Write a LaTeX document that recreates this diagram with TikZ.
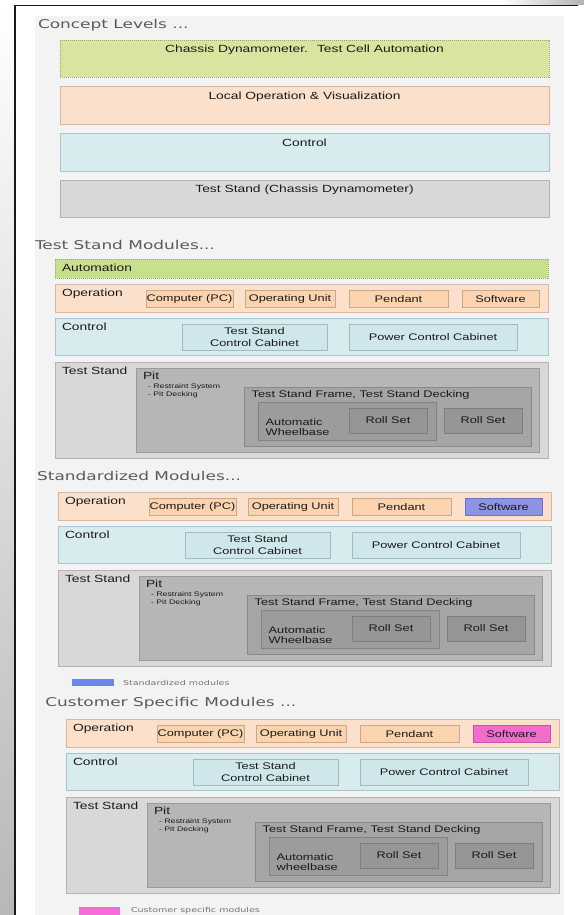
\documentclass[tikz,border=0pt]{standalone}
\usepackage{fontspec}
\setmainfont[FakeStretch=1.33]{Liberation Sans}
\newfontfamily\ttlfont[FakeStretch=1.4]{DejaVu Sans}
\usetikzlibrary{calc}
\definecolor{panel}{HTML}{F3F3F3}
\definecolor{txtc}{HTML}{1A1A1A}
\definecolor{ttlc}{HTML}{5A5A5A}
\definecolor{legc}{HTML}{747474}
\definecolor{grfill}{HTML}{D7E5A1}
\definecolor{grline}{HTML}{9AAC6C}
\definecolor{aufill}{HTML}{C8DF8C}
\definecolor{opfill}{HTML}{FBE0CB}
\definecolor{opline}{HTML}{D8B89E}
\definecolor{opsubfill}{HTML}{FBD4AF}
\definecolor{opsubline}{HTML}{C9A88B}
\definecolor{ctfill}{HTML}{D8ECEF}
\definecolor{ctline}{HTML}{A9C5C9}
\definecolor{ctsubfill}{HTML}{CFE7EB}
\definecolor{ctsubline}{HTML}{9FBCC1}
\definecolor{tsfill}{HTML}{D8D8D8}
\definecolor{tsline}{HTML}{B3B3B3}
\definecolor{pitfill}{HTML}{B6B6B6}
\definecolor{pitline}{HTML}{9A9A9A}
\definecolor{frfill}{HTML}{A5A5A5}
\definecolor{frline}{HTML}{8A8A8A}
\definecolor{awfill}{HTML}{9C9C9C}
\definecolor{awline}{HTML}{838383}
\definecolor{rofill}{HTML}{969696}
\definecolor{roline}{HTML}{7E7E7E}
\definecolor{stdfill}{HTML}{8A94E0}
\definecolor{stdline}{HTML}{6A74C4}
\definecolor{cusfill}{HTML}{F36CCB}
\definecolor{cusline}{HTML}{C456A4}
\definecolor{legblue}{HTML}{6C87EA}
\definecolor{legpink}{HTML}{F46CD8}
\tikzset{
  box/.style={draw, line width=0.7bp, inner sep=0pt, outer sep=0pt, align=center, text=txtc,
    font=\fontsize{9.6bp}{11.5bp}\selectfont},
  grbox/.style={box, fill=grfill, draw=grline, dash pattern=on 1.2bp off 0.8bp},
  aubox/.style={box, fill=aufill, draw=grline, dash pattern=on 1.2bp off 0.8bp},
  opbox/.style={box, fill=opfill, draw=opline},
  opsub/.style={box, fill=opsubfill, draw=opsubline},
  stdsw/.style={box, fill=stdfill, draw=stdline},
  cussw/.style={box, fill=cusfill, draw=cusline},
  ctbox/.style={box, fill=ctfill, draw=ctline},
  ctsub/.style={box, fill=ctsubfill, draw=ctsubline},
  tsbox/.style={box, fill=tsfill, draw=tsline},
  graybox/.style={box, fill=tsfill, draw=tsline},
  pitbox/.style={box, fill=pitfill, draw=pitline},
  frbox/.style={box, fill=frfill, draw=frline},
  awbbox/.style={box, fill=awfill, draw=awline},
  rollbox/.style={box, fill=rofill, draw=roline},
  txt/.style={inner sep=0pt, outer sep=0pt, text=txtc, font=\fontsize{9.6bp}{11.5bp}\selectfont},
  lbl/.style={inner sep=0pt, outer sep=0pt, text=txtc, font=\fontsize{10.4bp}{12bp}\selectfont},
  smalltxt/.style={inner sep=0pt, outer sep=0pt, text=txtc, font=\fontsize{6.6bp}{8bp}\selectfont},
  ttl/.style={inner sep=0pt, outer sep=0pt, text=ttlc, font=\ttlfont\fontsize{12.1bp}{14bp}\selectfont},
  legtxt/.style={inner sep=0pt, outer sep=0pt, text=legc, font=\ttlfont\fontsize{6.8bp}{8bp}\selectfont},
}
\newcommand{\mybox}[6]{\node[#5, anchor=north west, minimum width=#3bp, minimum height=#4bp] (#1) at #2 {#6};}
\newcommand{\modrows}[5]{%
  \mybox{#1op}{($(#2,#3)+(0,0)$)}{493}{28}{opbox}{}
  \node[lbl, anchor=base west] (#1opl) at ($(#2,#3)+(7,12.7)$) {Operation};
  \mybox{#1pc}{($(#2,#3)+(91,6.5)$)}{87}{16.5}{opsub}{Computer (PC)}
  \mybox{#1ou}{($(#2,#3)+(190,6.5)$)}{90}{16.5}{opsub}{Operating Unit}
  \mybox{#1pe}{($(#2,#3)+(294,6.5)$)}{99}{16.5}{opsub}{Pendant}
  \mybox{#1sw}{($(#2,#3)+(407,6.5)$)}{77}{16.5}{#4}{Software}
  \mybox{#1ct}{($(#2,#3)+(0,34)$)}{493}{37}{ctbox}{}
  \node[lbl, anchor=base west] (#1ctl) at ($(#2,#3)+(7,46.7)$) {Control};
  \mybox{#1tscc}{($(#2,#3)+(127,40)$)}{145}{26}{ctsub}{Test Stand\\Control Cabinet}
  \mybox{#1pcc}{($(#2,#3)+(294,40)$)}{168}{26}{ctsub}{Power Control Cabinet}
  \mybox{#1ts}{($(#2,#3)+(0,78)$)}{493}{96}{tsbox}{}
  \node[lbl, anchor=base west] (#1tsl) at ($(#2,#3)+(7,90.5)$) {Test Stand};
  \mybox{#1pit}{($(#2,#3)+(81,84)$)}{403}{84}{pitbox}{}
  \node[lbl, anchor=base west] (#1pitl) at ($(#2,#3)+(88,95.3)$) {Pit};
  \node[smalltxt, anchor=base west] (#1rs) at ($(#2,#3)+(93,104.7)$) {- Restraint System};
  \node[smalltxt, anchor=base west] (#1pd) at ($(#2,#3)+(93,112.7)$) {- Pit Decking};
  \mybox{#1fr}{($(#2,#3)+(189,103)$)}{287}{59}{frbox}{}
  \node[txt, anchor=base west] (#1frl) at ($(#2,#3)+(196.7,113.7)$) {Test Stand Frame, Test Stand Decking};
  \mybox{#1awb}{($(#2,#3)+(203,118)$)}{178}{38}{awbbox}{}
  \node[txt, anchor=base west] (#1awa) at ($(#2,#3)+(210.7,141.3)$) {Automatic};
  \node[txt, anchor=base west] (#1awb2) at ($(#2,#3)+(210.7,151.5)$) {#5};
  \mybox{#1ra}{($(#2,#3)+(294,124)$)}{78}{25}{rollbox}{Roll Set}
  \mybox{#1rb}{($(#2,#3)+(389,124)$)}{78}{25}{rollbox}{Roll Set}
}
\begin{document}
\begin{tikzpicture}[x=1bp, y=-1bp]
\useasboundingbox (0,0) rectangle (584,915);
% page surroundings
\fill[white] (0,0) rectangle (584,915);
\shade[top color=white, bottom color=black!28] (0,0) rectangle (14,915);
\shade[left color=white, right color=black!30] (500,0) rectangle (584,4.5);
\draw[line width=1.6bp, color=black!90] (15,915) -- (15,5.5) -- (578,5.5);
\fill[panel] (35,16) rectangle (564,915);

% Concept levels
\node[ttl, anchor=base west] (t1) at (38,28.3) {Concept Levels ...};
\mybox{c1}{(60,40)}{489}{37}{grbox}{}
\node[lbl, anchor=base] (c1t) at (304.5,52.8) {Chassis Dynamometer.~ Test Cell Automation};
\mybox{c2}{(60,86)}{489}{38}{opbox}{}
\node[lbl, anchor=base] (c2t) at (304.5,99.2) {Local Operation \& Visualization};
\mybox{c3}{(60,133)}{489}{38}{ctbox}{}
\node[lbl, anchor=base] (c3t) at (304.5,146.5) {Control};
\mybox{c4}{(60,180)}{489}{37}{graybox}{}
\node[lbl, anchor=base] (c4t) at (304.5,192.8) {Test Stand (Chassis Dynamometer)};

% Test Stand Modules
\node[ttl, anchor=base west] (t2) at (35,249.3) {Test Stand Modules...};
\mybox{au}{(55,259)}{493}{19}{aubox}{}
\node[lbl, anchor=base west] (aut) at (62,271.7) {Automation};
\modrows{a}{55}{284}{opsub}{Wheelbase}

% Standardized Modules
\node[ttl, anchor=base west] (t3) at (37.2,480) {Standardized Modules...};
\modrows{b}{58}{492}{stdsw}{Wheelbase}
\node[fill=legblue, minimum width=42bp, minimum height=7bp, inner sep=0pt, anchor=north west] (lg1) at (71.5,679) {};
\node[legtxt, anchor=west] (lg1t) at (123,682.5) {Standardized modules};

% Customer Specific Modules
\node[ttl, anchor=base west] (t4) at (45.4,706) {Customer Specific Modules ...};
\modrows{c}{66}{719}{cussw}{wheelbase}
\node[fill=legpink, minimum width=41bp, minimum height=10bp, inner sep=0pt, anchor=north west] (lg2) at (79,907) {};
\node[legtxt, anchor=west] (lg2t) at (131,910.8) {Customer specific modules};
\end{tikzpicture}
\end{document}
